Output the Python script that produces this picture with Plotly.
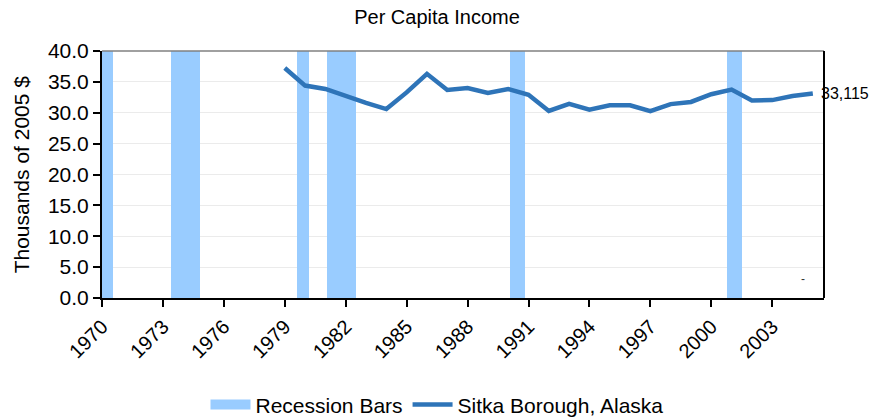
import plotly.graph_objects as go

# ---- data ----
years = list(range(1979, 2006))
income = [37.25, 34.4, 33.85, 32.7, 31.6, 30.6, 33.3, 36.3, 33.7, 34.0,
          33.2, 33.85, 32.9, 30.3, 31.45, 30.5, 31.2, 31.2, 30.25, 31.4,
          31.75, 33.0, 33.75, 32.0, 32.05, 32.7, 33.115]
rec_start = [1969.95, 1973.40, 1979.61, 1981.09, 1990.11, 2000.76]
rec_end = [1970.54, 1974.81, 1980.20, 1982.52, 1990.85, 2001.50]
rec_top = 40.0
last_label = "33,115"

FONT = "Arial, Liberation Sans, sans-serif"
BAR_COLOR = "#99CCFF"
LINE_COLOR = "#2E74B8"

fig = go.Figure()

fig.add_trace(go.Bar(
    x=[(s + e) / 2 for s, e in zip(rec_start, rec_end)],
    y=[rec_top] * len(rec_start),
    width=[e - s for s, e in zip(rec_start, rec_end)],
    marker=dict(color=BAR_COLOR, line=dict(width=0)),
    showlegend=False, hoverinfo="skip", name="Recession Bars",
))
# legend swatch for recession bars
fig.add_trace(go.Scatter(
    x=[None], y=[None], mode="lines",
    line=dict(color=BAR_COLOR, width=13),
    name="Recession Bars",
))
fig.add_trace(go.Scatter(
    x=years, y=income, mode="lines",
    line=dict(color=LINE_COLOR, width=4.5),
    name="Sitka Borough, Alaska",
))

fig.add_annotation(
    x=years[-1], y=income[-1], xref="x", yref="y",
    text=last_label, showarrow=False, xanchor="left", yanchor="middle",
    xshift=6, font=dict(family=FONT, size=16, color="#000000"),
)
fig.add_annotation(
    x=2004.5, y=3, xref="x", yref="y", text="-", showarrow=False,
    font=dict(family=FONT, size=12, color="#333333"),
)

# frame lines
fig.add_shape(type="line", xref="paper", yref="paper", x0=0, x1=1, y0=1, y1=1,
              line=dict(color="#808080", width=1.5))
fig.add_shape(type="line", xref="paper", yref="paper", x0=1, x1=1, y0=0, y1=1,
              line=dict(color="#000000", width=2))

fig.update_layout(
    width=874, height=418,
    margin=dict(l=102, r=50, t=51, b=120, autoexpand=False),
    paper_bgcolor="white", plot_bgcolor="white",
    title=dict(text="Per Capita Income", x=0.5, xanchor="center",
               y=0.96, yanchor="middle",
               font=dict(family=FONT, size=20, color="#000000")),
    font=dict(family=FONT, color="#000000"),
    bargap=0,
    showlegend=True,
    legend=dict(orientation="h", xref="container", yref="paper",
                x=0.5, xanchor="center", y=-0.433, yanchor="middle",
                font=dict(family=FONT, size=21, color="#000000"),
                itemwidth=40, tracegroupgap=0),
    xaxis=dict(range=[1970, 2005.55], tick0=1970, dtick=3, tickangle=-45,
               showgrid=False, zeroline=False,
               showline=True, linecolor="#000000", linewidth=2,
               ticks="outside", ticklen=7, tickwidth=2, tickcolor="#000000",
               tickfont=dict(family=FONT, size=20, color="#000000")),
    yaxis=dict(range=[0, 40], dtick=5, tickformat=".1f",
               showgrid=True, gridcolor="#EBEBEB", gridwidth=1,
               zeroline=False,
               showline=True, linecolor="#000000", linewidth=2,
               ticks="outside", ticklen=7, tickwidth=2, tickcolor="#000000",
               tickfont=dict(family=FONT, size=21, color="#000000")),
)
fig.add_annotation(
    text="Thousands of 2005 $", xref="paper", yref="paper",
    x=-0.111, y=0.5, xanchor="center", yanchor="middle", textangle=-90,
    showarrow=False, font=dict(family=FONT, size=21, color="#000000"),
)

fig.write_html(
    "out.html",
    config={"displayModeBar": False},
    post_script="document.body.style.margin='0';document.body.style.padding='0';",
)
